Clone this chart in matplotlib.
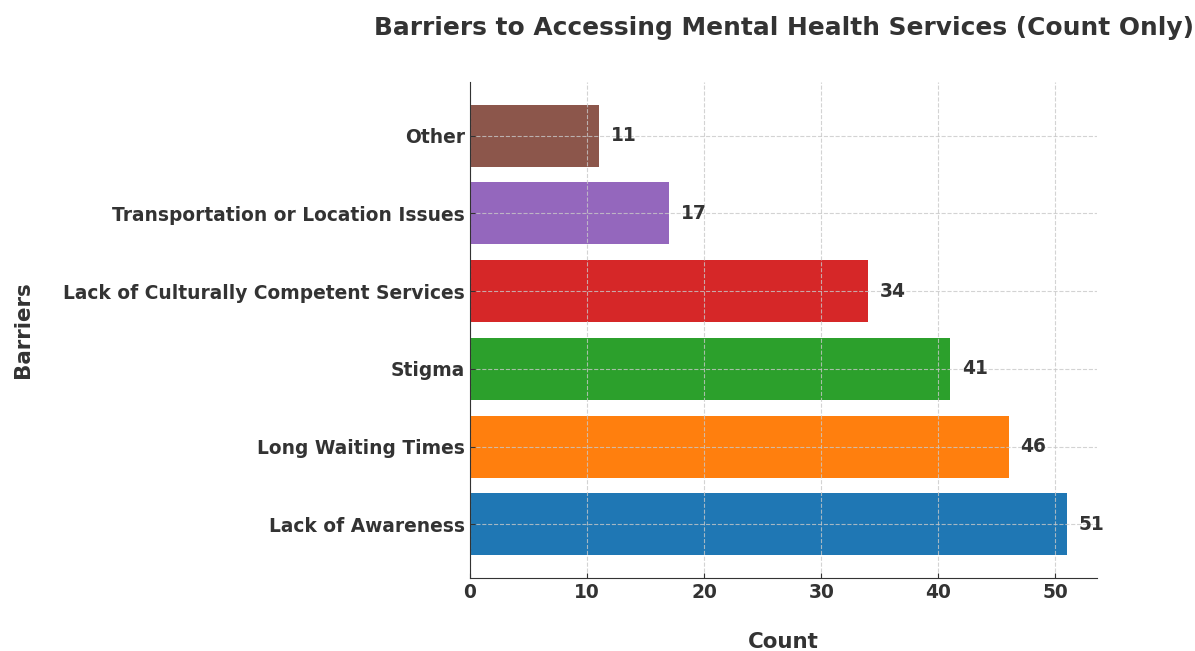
import matplotlib
matplotlib.use("Agg")
import matplotlib.pyplot as plt

plt.rcParams["font.family"] = "DejaVu Sans"

# barrier counts, bottom to top
barriers = ["Lack of Awareness", "Long Waiting Times", "Stigma",
            "Lack of Culturally Competent Services",
            "Transportation or Location Issues", "Other"]
counts = [51, 46, 41, 34, 17, 11]
colors = ["#1f77b4", "#ff7f0e", "#2ca02c", "#d62728", "#9467bd", "#8c564b"]

txt = "#333333"

fig = plt.figure(figsize=(11.95, 6.51), dpi=100)
ax = fig.add_axes([470 / 1195, 1 - 578 / 651, (1097 - 470) / 1195, (578 - 82) / 651])

bars = ax.barh(barriers, counts, color=colors, height=0.8, zorder=1)

# count labels next to each bar
for b, c in zip(bars, counts):
    ax.text(b.get_width() + 1, b.get_y() + b.get_height() / 2, str(c),
            va="center", ha="left", fontsize=13.4, fontweight="bold", color=txt)

# grid sits on top of the bars, faint
ax.grid(True, linestyle="--", color="#c8c8c8", linewidth=0.8, alpha=0.8)
ax.set_axisbelow(False)
for s in ["top", "right"]:
    ax.spines[s].set_visible(False)
for s in ["left", "bottom"]:
    ax.spines[s].set_color(txt)
    ax.spines[s].set_zorder(5)

ax.tick_params(axis="both", direction="in", labelsize=13.4, colors=txt)
for lab in ax.get_xticklabels() + ax.get_yticklabels():
    lab.set_fontweight("bold")

ax.set_xlabel("Count", fontsize=15.4, fontweight="bold", color=txt, labelpad=22)
ax.set_ylabel("Barriers", fontsize=15.4, fontweight="bold", color=txt, labelpad=22)
ax.set_title("Barriers to Accessing Mental Health Services (Count Only)",
             fontsize=17.9, fontweight="bold", color=txt, pad=34)

fig.savefig("out.png", dpi=100)
